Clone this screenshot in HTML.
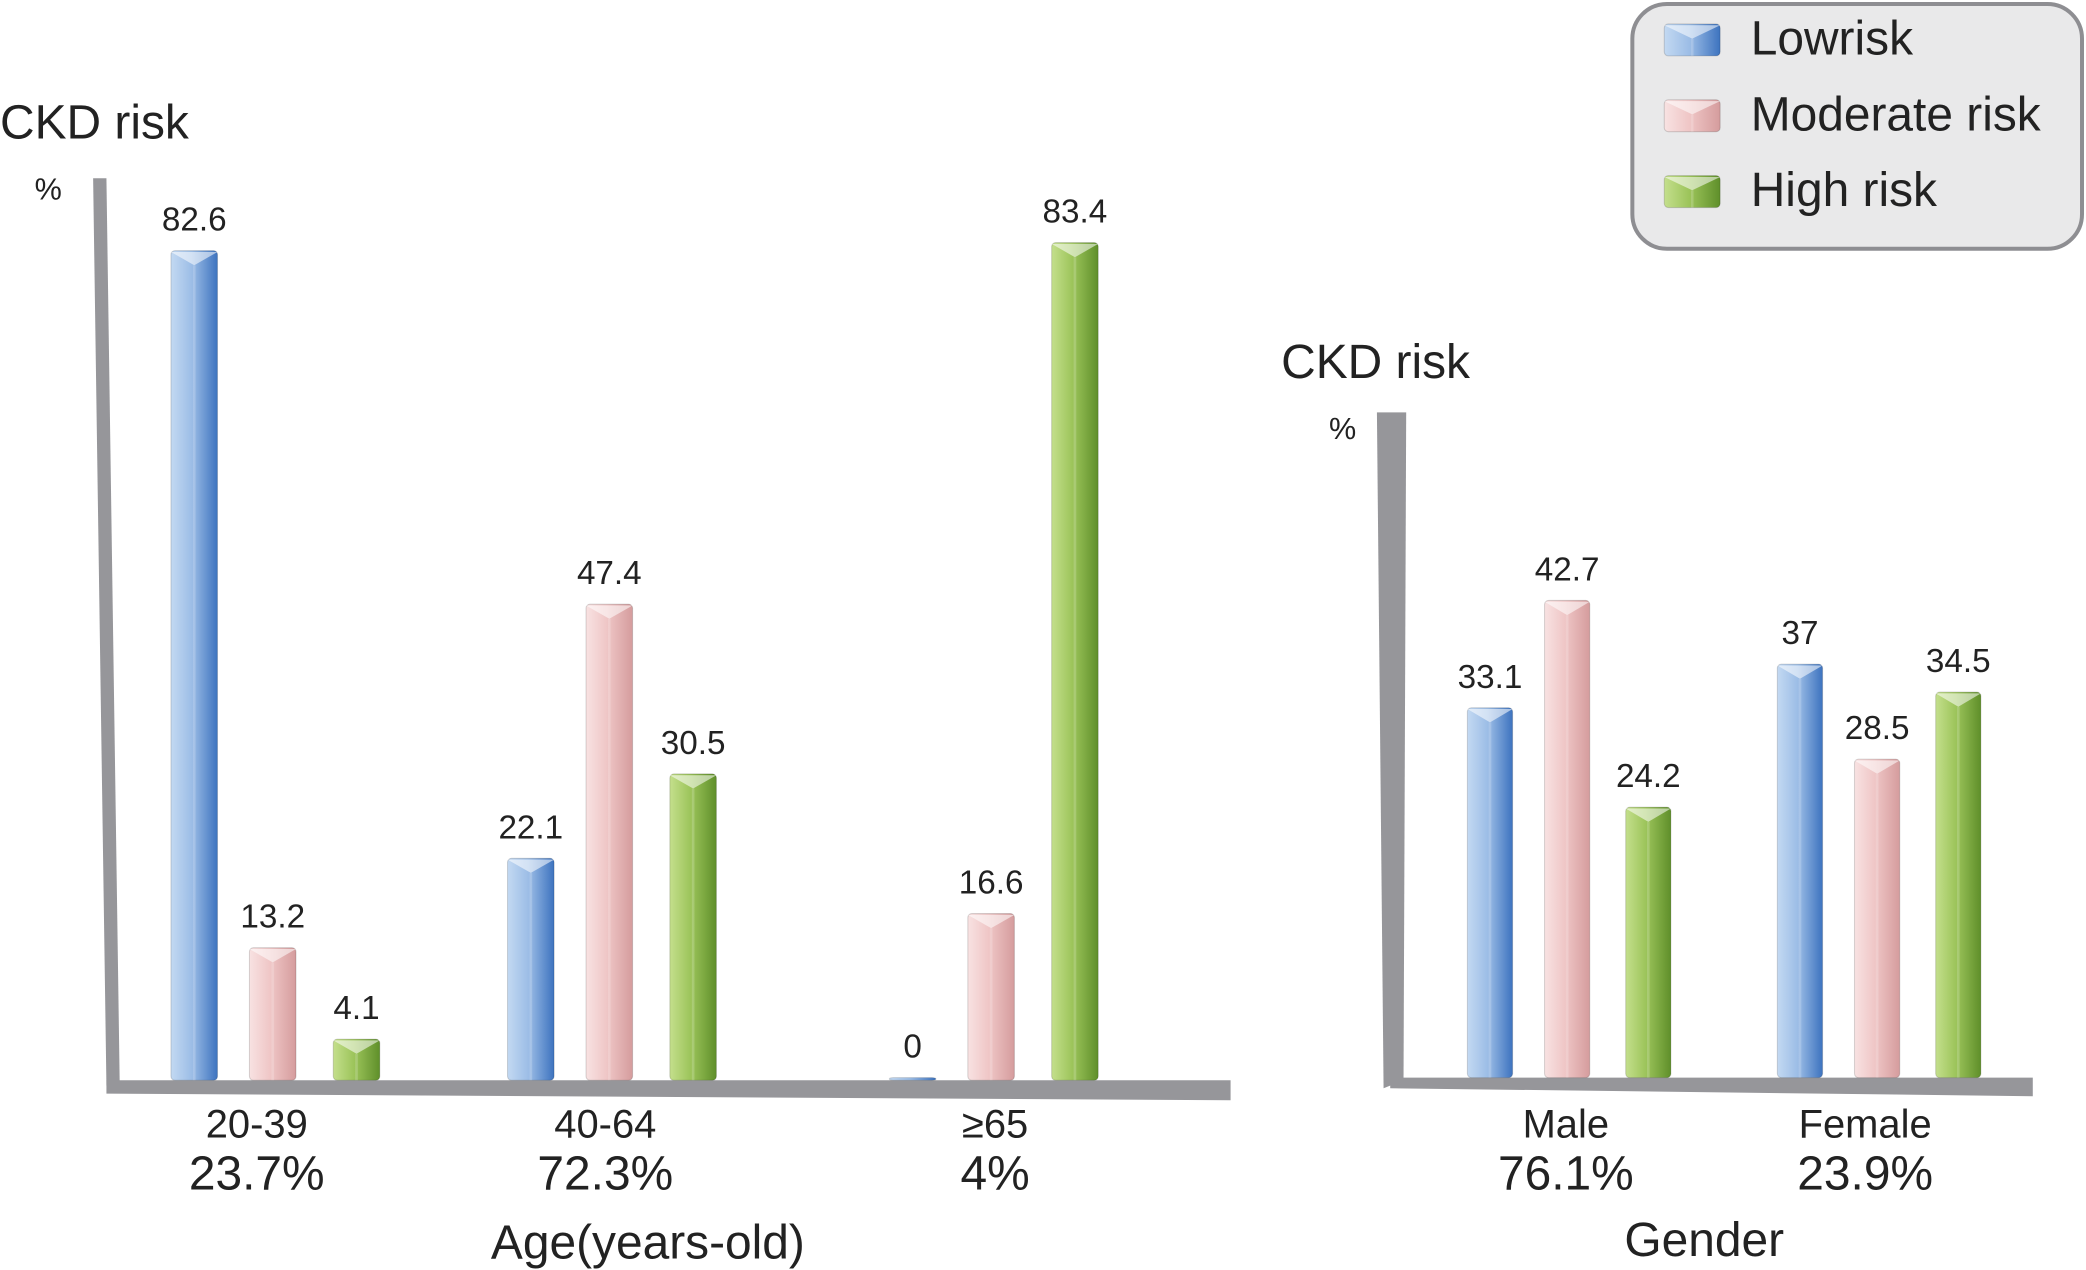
<!DOCTYPE html>
<html><head><meta charset="utf-8">
<style>
html,body{margin:0;padding:0;background:#fff;}
svg{display:block;font-family:"Liberation Sans",Arial,sans-serif;}
</style></head>
<body>
<svg id="chart" width="2086" height="1270" viewBox="0 0 1568 954.6" preserveAspectRatio="none" xmlns="http://www.w3.org/2000/svg">
<defs>
<linearGradient id="gBlue" x1="0" x2="1" y1="0" y2="0"><stop offset="0" stop-color="#c3d9f2"/><stop offset="0.45" stop-color="#9cbde6"/><stop offset="1" stop-color="#3d73bf"/></linearGradient>
<linearGradient id="gPink" x1="0" x2="1" y1="0" y2="0"><stop offset="0" stop-color="#f8e2e2"/><stop offset="0.45" stop-color="#efc6c6"/><stop offset="1" stop-color="#d59c9d"/></linearGradient>
<linearGradient id="gGreen" x1="0" x2="1" y1="0" y2="0"><stop offset="0" stop-color="#c4df8c"/><stop offset="0.45" stop-color="#9cc45a"/><stop offset="1" stop-color="#5f8f2a"/></linearGradient>
</defs>
<polygon points="70,134 80,134 90,816 80,816" fill="#96969a"/>
<polygon points="80,812 925,812 925,827 80,822" fill="#96969a"/>
<polygon points="1035,310 1057,310 1055,812 1040,818" fill="#96969a"/>
<polygon points="1045,810 1528,810 1528,824 1045,818" fill="#96969a"/>
<text x="0" y="104" font-size="36" fill="#222">CKD risk</text>
<text x="26" y="150" font-size="23" fill="#222">%</text>
<text x="963" y="284" font-size="36" fill="#222">CKD risk</text>
<text x="999" y="330" font-size="23" fill="#222">%</text>
<text x="487" y="946" font-size="36" text-anchor="middle" fill="#222">Age(years-old)</text>
<text x="1281" y="944" font-size="36" text-anchor="middle" fill="#222">Gender</text>
<g>
<rect x="1227" y="3" width="338" height="184" rx="26" fill="#e9e9ea" stroke="#8e8e92" stroke-width="3"/>
</g>
</svg>
<script>
var seriesNames = ["Lowrisk", "Moderate risk", "High risk"];
var ageCategories = ["20-39", "40-64", "≥65"];
var agePercents = ["23.7%", "72.3%", "4%"];
var ageLow = [82.6, 22.1, 0];
var ageModerate = [13.2, 47.4, 16.6];
var ageHigh = [4.1, 30.5, 83.4];
var genderCategories = ["Male", "Female"];
var genderPercents = ["76.1%", "23.9%"];
var genderLow = [33.1, 37];
var genderModerate = [42.7, 28.5];
var genderHigh = [24.2, 34.5];

var NS = "http://www.w3.org/2000/svg";
var svg = document.getElementById("chart");
var fills = ["url(#gBlue)", "url(#gPink)", "url(#gGreen)"];
var keys = ["low", "moderate", "high"];

function mk(tag, attrs, parent) {
  var e = document.createElementNS(NS, tag);
  for (var k in attrs) e.setAttribute(k, attrs[k]);
  (parent || svg).appendChild(e);
  return e;
}
function drawBar(x, yTop, base, w, fill) {
  var h = Math.max(base - yTop, 2);
  var g = mk("g", {});
  mk("rect", {x: x, y: base - h, width: w, height: h, rx: 3, fill: fill, stroke: "rgba(0,0,0,0.15)", "stroke-width": 0.8}, g);
  if (h > 12) {
    mk("path", {d: "M" + x + "," + (base - h + 1) + " L" + (x + w / 2) + "," + (base - h + 11) + " L" + (x + w) + "," + (base - h + 1) + " Z", fill: "rgba(255,255,255,0.55)"}, g);
    mk("line", {x1: x + w / 2, y1: base - h + 11, x2: x + w / 2, y2: base, stroke: "rgba(255,255,255,0.18)", "stroke-width": 2}, g);
  }
  return g;
}
function drawPanel(cats, pcts, series, centers, offsets, base, scale, w, prefix, labelShift) {
  for (var i = 0; i < cats.length; i++) {
    for (var s = 0; s < 3; s++) {
      var v = series[s][i];
      var x = centers[i] + offsets[s] - w / 2;
      var yTop = base - v * scale;
      var g = drawBar(x, yTop, base, w, fills[s]);
      
      
      var t = mk("text", {x: x + w / 2, y: Math.min(yTop, base - 2) - 15, "font-size": 25, "text-anchor": "middle", fill: "#222"});
      t.textContent = v;
      
      
    }
    var c = mk("text", {x: centers[i] + labelShift[i], y: 855, "font-size": 30, "text-anchor": "middle", fill: "#222"});
    c.textContent = cats[i];
    
    
    var p = mk("text", {x: centers[i] + labelShift[i], y: 894, "font-size": 36, "text-anchor": "middle", fill: "#222"});
    p.textContent = pcts[i];
    
    
  }
}
drawPanel(ageCategories, agePercents, [ageLow, ageModerate, ageHigh], [205, 458, 745], [-59, 0, 63], 812, 7.55, 35, "age", [-12, -3, 3]);
drawPanel(genderCategories, genderPercents, [genderLow, genderModerate, genderHigh], [1178, 1411], [-58, 0, 61], 810, 8.4, 34, "gender", [-1, -9]);

for (var s = 0; s < 3; s++) {
  var y = 18 + s * 57;
  var ic = drawBar(1251, y, y + 24, 42, fills[s]);
  
  
  var lt = mk("text", {x: 1316, y: y + 23, "font-size": 36, fill: "#222"});
  lt.textContent = seriesNames[s];
  
  
}
</script>
</body></html>
